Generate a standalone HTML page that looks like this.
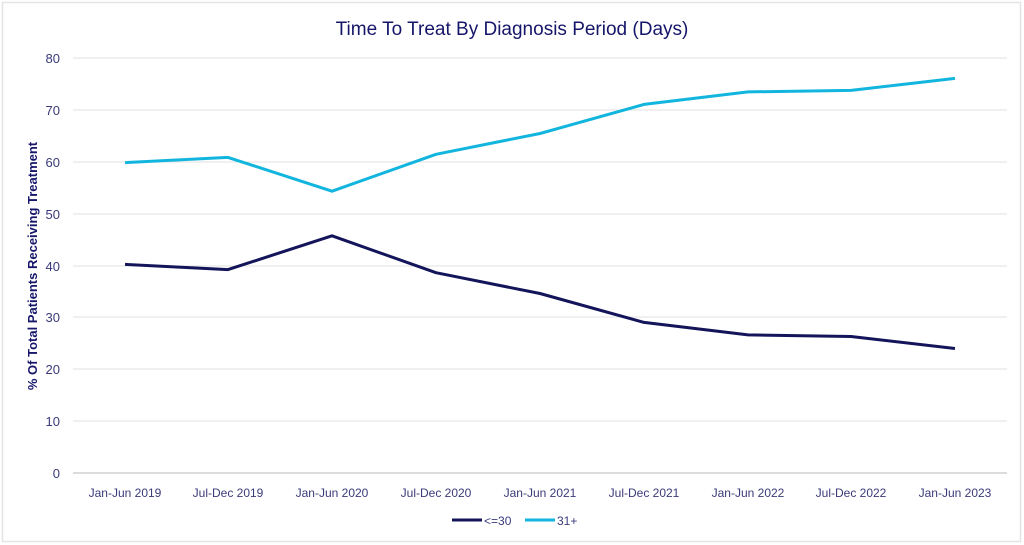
<!DOCTYPE html>
<html><head><meta charset="utf-8"><style>
body{margin:0;background:#fff;}
svg{display:block;font-family:"Liberation Sans",sans-serif;}
</style></head><body>
<svg width="1024" height="545" viewBox="0 0 1024 545">
<rect x="2.5" y="2.5" width="1018" height="539" fill="#fff" stroke="#e4e4e4" stroke-width="1.5"/>
<text x="512" y="35" text-anchor="middle" font-size="19" fill="#16166a">Time To Treat By Diagnosis Period (Days)</text>
<g stroke="#e0e0e0" stroke-width="1">
<line x1="73" x2="1007" y1="58" y2="58"/><line x1="73" x2="1007" y1="110" y2="110"/>
<line x1="73" x2="1007" y1="162" y2="162"/><line x1="73" x2="1007" y1="214" y2="214"/>
<line x1="73" x2="1007" y1="266" y2="266"/><line x1="73" x2="1007" y1="317" y2="317"/>
<line x1="73" x2="1007" y1="369" y2="369"/><line x1="73" x2="1007" y1="421" y2="421"/>
</g>
<line x1="73" x2="1007" y1="473" y2="473" stroke="#d0d0d0" stroke-width="1.5"/>
<g font-size="13" fill="#3a3a7a" text-anchor="end">
<text x="60" y="63">80</text><text x="60" y="115">70</text><text x="60" y="167">60</text>
<text x="60" y="219">50</text><text x="60" y="271">40</text><text x="60" y="322">30</text>
<text x="60" y="374">20</text><text x="60" y="426">10</text><text x="60" y="478">0</text>
</g>
<text transform="translate(37,266) rotate(-90)" text-anchor="middle" font-size="13" font-weight="bold" fill="#16166a">% Of Total Patients Receiving Treatment</text>
<g font-size="12" fill="#3a3a7a" text-anchor="middle">
<text x="125" y="497">Jan-Jun 2019</text><text x="228" y="497">Jul-Dec 2019</text>
<text x="332" y="497">Jan-Jun 2020</text><text x="436" y="497">Jul-Dec 2020</text>
<text x="540" y="497">Jan-Jun 2021</text><text x="644" y="497">Jul-Dec 2021</text>
<text x="748" y="497">Jan-Jun 2022</text><text x="851" y="497">Jul-Dec 2022</text>
<text x="955" y="497">Jan-Jun 2023</text>
</g>
<polyline fill="none" stroke="#14145a" stroke-width="3" stroke-linejoin="round" points="125,264.4 228,269.6 332,235.8 436,272.7 540,293.5 644,322.4 748,334.9 851,336.5 955,348.5"/>
<polyline fill="none" stroke="#12b5dd" stroke-width="3" stroke-linejoin="round" points="125,162.6 228,157.4 332,191.2 436,154.3 540,133.5 644,104.4 748,91.9 851,90.4 955,78.4"/>
<line x1="452" x2="482" y1="520" y2="520" stroke="#14145a" stroke-width="3"/>
<text x="484" y="525" font-size="12" fill="#3a3a7a">&lt;=30</text>
<line x1="525" x2="555" y1="520" y2="520" stroke="#12b5dd" stroke-width="3"/>
<text x="557" y="525" font-size="12" fill="#3a3a7a">31+</text>
</svg>
</body></html>
